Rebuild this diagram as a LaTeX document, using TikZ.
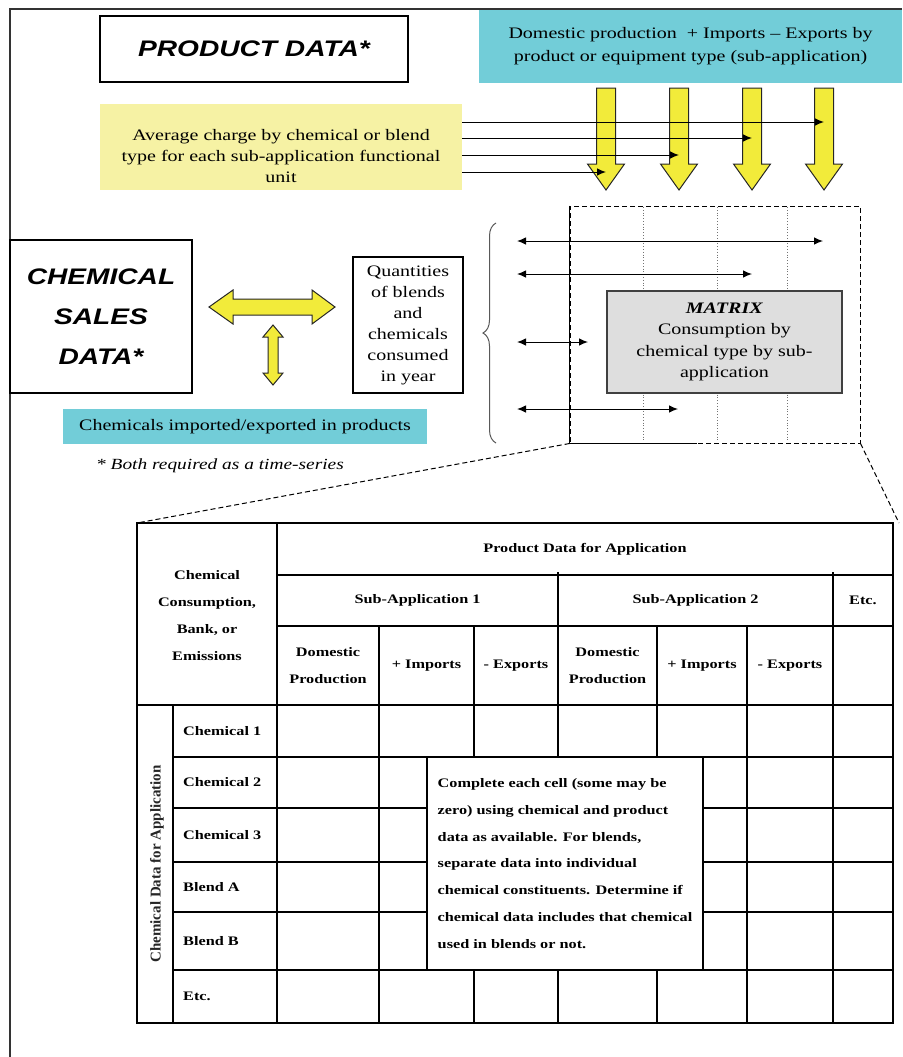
\documentclass[tikz,border=0pt]{standalone}
\usepackage{fontspec}
\setmainfont{Liberation Serif}[FakeStretch=1.25]
\setsansfont{Liberation Sans}[FakeStretch=1.25]
\newfontfamily\rotfont{Liberation Serif}
\usetikzlibrary{arrows.meta,decorations.pathreplacing}
\definecolor{cyanbox}{RGB}{114,205,216}
\definecolor{paleyellow}{RGB}{246,242,164}
\definecolor{blockyellow}{RGB}{242,235,58}
\definecolor{matrixgrey}{RGB}{222,222,222}
\newcommand\setfs[2]{\fontsize{#1}{#2}\selectfont}

\begin{document}
\begin{tikzpicture}[x=1pt,y=-1pt,
    plainbox/.style={draw,line width=1.3pt,inner sep=0,align=center},
    titlebox/.style={plainbox,font=\sffamily\bfseries\itshape\setfs{22.5}{40}},
    infobox/.style={fill=cyanbox,inner sep=0,align=center,font=\setfs{16}{23}},
    blockarrow/.style={draw=black!85,line width=1pt,fill=blockyellow,line join=miter},
    thinarrow/.style={line width=1pt,-{Latex[length=9pt,width=7.5pt]}},
    dblarrow/.style={line width=1pt,{Latex[length=9pt,width=7.5pt]}-{Latex[length=9pt,width=7.5pt]}},
    longdash/.style={dash pattern=on 5pt off 3pt,line width=1pt},
    gridline/.style={dotted,line width=0.8pt,black!55},
    tabline/.style={line width=1.2pt},
    tabtext/.style={font=\bfseries\setfs{13}{27},align=center,inner sep=0}]
  \useasboundingbox (0,0) rectangle (902,1057);
  % page frame
  \draw[line width=1.3pt,black!80] (10,1057) -- (10,9) -- (902,9);

  % product data side
  \node[titlebox,minimum width=308,minimum height=66] (prod) at (254,49) {PRODUCT DATA*};
  \node[infobox,minimum width=423,minimum height=73] (supply) at (690.5,46.5)
    {Domestic production~ + Imports – Exports by\\product or equipment type (sub-application)};
  \node[fill=paleyellow,inner sep=0,minimum width=362,minimum height=86] (avg) at (281,147) {};
  \node[align=center,inner sep=0,font=\setfs{16}{21}] (avgtext) at (281,156)
    {Average charge by chemical or blend\\type for each sub-application functional\\unit};
  \foreach \i/\x in {1/606,2/679,3/752,4/824}{
    \draw[blockarrow] (\x-9.5,88) -- (\x+9.5,88) -- (\x+9.5,164) -- (\x+18.5,164)
      -- (\x,190) -- (\x-18.5,164) -- (\x-9.5,164) -- cycle;
    \coordinate (down\i) at (\x,190);
  }
  \foreach \i/\y in {4/122,3/138,2/155,1/172}{
    \coordinate (h\i) at (0,\y);
    \draw[thinarrow] (avg.east |- h\i) -- (down\i |- h\i);
  }

  % matrix
  \node[draw,longdash,inner sep=0,minimum width=290,minimum height=237] (mbox) at (715,324.5) {};
  \draw[line width=1pt] (mbox.north west) -- (mbox.south west) -- ++(127,0);
  \foreach \x in {643,717,787}
    \draw[gridline] (\x,207) -- (\x,442);
  \node[plainbox,draw=black!75,fill=matrixgrey,minimum width=235,minimum height=102,font=\setfs{16}{21.5}] (matrix) at (724.5,342)
    {\textbf{\textit{MATRIX}}\\Consumption by\\chemical type by sub-\\application};
  \foreach \i/\y/\x in {1/241/823,2/274/752,3/342/588,4/409/678}{
    \coordinate (src\i) at (517,\y);
    \coordinate (dst\i) at (\x,\y);
    \draw[dblarrow] (src\i) -- (dst\i);
  }
  \draw[decorate,decoration={brace,amplitude=13pt},black!65,line width=1pt] (496,443) -- (496,223);

  % chemical sales side
  \node[titlebox,minimum width=182,minimum height=153] (sales) at (101,316.5) {CHEMICAL\\SALES\\DATA*};
  \node[plainbox,minimum width=110,minimum height=136,font=\setfs{16}{21}] (qty) at (408,325)
    {Quantities\\of blends\\and\\chemicals\\consumed\\in year};
  \draw[blockarrow] (209,307) -- (233,290) -- (233,299) -- (312,299) -- (312,290) -- (335,307)
    -- (312,324) -- (312,315) -- (233,315) -- (233,324) -- cycle;
  \draw[blockarrow] (273,325) -- (283,337) -- (278,337) -- (278,373) -- (283,373) -- (273,385)
    -- (263,373) -- (268,373) -- (268,337) -- (263,337) -- cycle;
  \node[infobox,minimum width=364,minimum height=35] (trade) at (245,426.5) {Chemicals imported/exported in products};
  \node[font=\itshape\setfs{15.5}{18},inner sep=0] (series) at (220,466) {* Both required as a time-series};

  % zoom lines
  \coordinate (tabNW) at (137,523);
  \coordinate (zoomR) at (899,523);
  \draw[longdash] (mbox.south west) -- (tabNW);
  \draw[longdash] (mbox.south east) -- (zoomR);

  % table
  \draw[tabline] (tabNW) rectangle (893,1023);
  \draw[tabline] (277,575) -- (893,575);
  \draw[tabline] (277,626) -- (893,626);
  \draw[tabline] (137,705) -- (893,705);
  \draw[tabline] (277,523) -- (277,1023);
  \draw[tabline] (173,705) -- (173,1023);
  \foreach \x in {558,833}
    \draw[tabline] (\x,572) -- (\x,1023);
  \foreach \x in {379,474,657,747}
    \draw[tabline] (\x,626) -- (\x,1023);
  \foreach \y in {757,808,862,912,970}
    \draw[tabline] (173,\y) -- (893,\y);

  \node[tabtext] (chemhead) at (207,616) {Chemical\\Consumption,\\Bank, or\\Emissions};
  \node[tabtext] (prodhead) at (585,549) {Product Data for Application};
  \node[tabtext] (sub1) at (417.5,600.5) {Sub-Application 1};
  \node[tabtext] (sub2) at (695.5,600.5) {Sub-Application 2};
  \node[tabtext] (etc) at (863,600.5) {Etc.};
  \foreach \n/\x in {1/328,2/607.5}
    \node[tabtext] (dom\n) at (\x,666) {Domestic\\Production};
  \foreach \n/\x in {1/426.5,2/702}
    \node[tabtext] (imp\n) at (\x,666) {+ Imports};
  \foreach \n/\x in {1/516,2/790}
    \node[tabtext] (exp\n) at (\x,666) {- Exports};
  \node[rotate=90,inner sep=0,black!85,font=\rotfont\bfseries\setfs{15}{18}] (chemdata) at (157,864) {Chemical Data for Application};
  \foreach \i/\y/\t in {1/731.5/Chemical 1,2/782.5/Chemical 2,3/835/Chemical 3,4/887/Blend A,5/941/Blend B,6/996.5/Etc.}
    \node[tabtext,anchor=west] (row\i) at (183,\y) {\t};

  \node[plainbox,line width=1.2pt,fill=white,minimum width=276,minimum height=213,align=left,font=\bfseries\setfs{13}{26.8}] (fillnote) at (565,863.5)
    {Complete each cell (some may be\\zero) using chemical and product\\data as available. For blends,\\separate data into individual\\chemical constituents. Determine if\\chemical data includes that chemical\\used in blends or not.};
\end{tikzpicture}
\end{document}
